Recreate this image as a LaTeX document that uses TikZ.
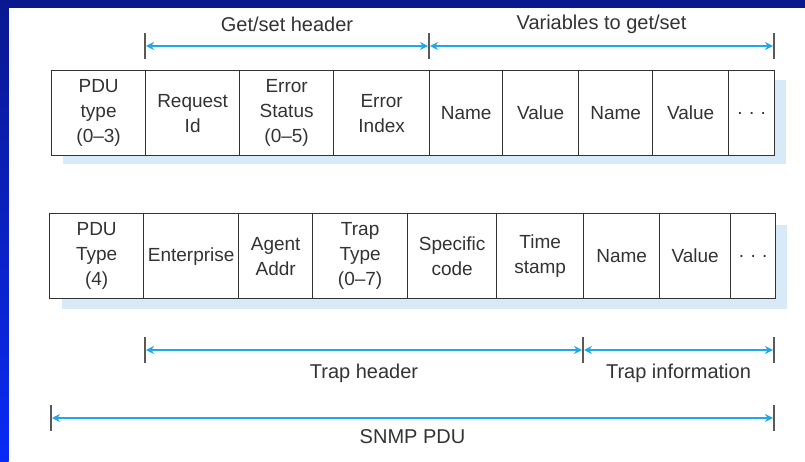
\documentclass[tikz,border=0pt]{standalone}
\usepackage{fontspec}
\setmainfont{Liberation Sans}
\usetikzlibrary{arrows.meta}
\definecolor{navyband}{HTML}{0A1890}
\definecolor{brightband}{HTML}{0A2AF5}
\definecolor{dimblue}{HTML}{1EA8E8}
\definecolor{shadowblue}{HTML}{D8EAF8}
\definecolor{inkgray}{HTML}{333333}
\tikzset{
  field/.style={draw=inkgray, line width=1.3pt, fill=white, minimum height=85pt,
    inner sep=0pt, anchor=north west, align=center, text=inkgray,
    font=\fontsize{19}{25}\selectfont},
  dimline/.style={draw=dimblue, line width=1.2pt,
    {Stealth[length=8pt,width=8pt]}-{Stealth[length=8pt,width=8pt]}},
  tickmark/.style={draw=gray!70!black, line width=1.3pt},
  dimlabel/.style={text=inkgray, font=\fontsize{20}{24}\selectfont}
}
\begin{document}
\begin{tikzpicture}[x=1pt,y=-1pt]
      \useasboundingbox (0,0) rectangle (805,462);
      \fill[white] (0,0) rectangle (805,462);
      \fill[navyband] (0,0) rectangle (805,8);
      \shade[top color=navyband, bottom color=brightband] (0,0) rectangle (8.5,462);
      % shadows
      \fill[shadowblue] (63,80) rectangle (786,164);
      \fill[shadowblue] (62,225) rectangle (787,309);
      % get/set PDU
      \node[field, minimum width=94pt] (pdutype) at (51,70) {PDU\\type\\(0--3)};
      \node[field, minimum width=94pt] (reqid) at (145,70) {Request\\Id};
      \node[field, minimum width=94pt] (errstatus) at (239,70) {Error\\Status\\(0--5)};
      \node[field, minimum width=96pt] (errindex) at (333,70) {Error\\Index};
      \node[field, minimum width=73pt] (nameA) at (429,70) {Name};
      \node[field, minimum width=76pt] (valueA) at (502,70) {Value};
      \node[field, minimum width=74pt] (nameB) at (578,70) {Name};
      \node[field, minimum width=76pt] (valueB) at (652,70) {Value};
      \node[field, minimum width=46pt] (moreA) at (728,70) {.\,\,.\,\,.};
      % trap PDU
      \node[field, minimum width=94pt] (pdutrap) at (49,213) {PDU\\Type\\(4)};
      \node[field, minimum width=95pt] (enterprise) at (143,213) {Enterprise};
      \node[field, minimum width=74pt] (agentaddr) at (238,213) {Agent\\Addr};
      \node[field, minimum width=95pt] (traptype) at (312,213) {Trap\\Type\\(0--7)};
      \node[field, minimum width=89pt] (specific) at (407,213) {Specific\\code};
      \node[field, minimum width=87pt] (timestamp) at (496,213) {Time\\stamp};
      \node[field, minimum width=76pt] (nameC) at (583,213) {Name};
      \node[field, minimum width=71pt] (valueC) at (659,213) {Value};
      \node[field, minimum width=45pt] (moreB) at (730,213) {.\,\,.\,\,.};
      % dimension lines
      \coordinate (gs0) at (145,46);
      \coordinate (gs1) at (429,46);
      \coordinate (gs2) at (774,46);
      \coordinate (th0) at (145,350);
      \coordinate (th1) at (583,350);
      \coordinate (th2) at (774,350);
      \coordinate (sp0) at (51,418);
      \coordinate (sp1) at (774,418);
      \foreach \t in {gs0,gs1,gs2,th0,th1,th2,sp0,sp1}
        \draw[tickmark] ([yshift=13pt]\t) -- ([yshift=-13pt]\t);
      \draw[dimline] ([xshift=1pt]gs0) -- node[dimlabel, yshift=22pt] {Get/set header} ([xshift=-1pt]gs1);
      \draw[dimline] ([xshift=1pt]gs1) -- node[dimlabel, yshift=22pt] {Variables to get/set} ([xshift=-1pt]gs2);
      \draw[dimline] ([xshift=1pt]th0) -- node[dimlabel, yshift=-23pt] {Trap header} ([xshift=-1pt]th1);
      \draw[dimline] ([xshift=1pt]th1) -- node[dimlabel, yshift=-23pt] {Trap information} ([xshift=-1pt]th2);
      \draw[dimline] ([xshift=1pt]sp0) -- node[dimlabel, yshift=-19pt] {SNMP PDU} ([xshift=-1pt]sp1);
    \end{tikzpicture}
\end{document}
